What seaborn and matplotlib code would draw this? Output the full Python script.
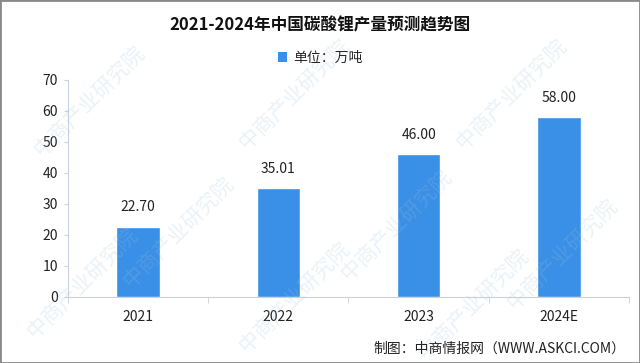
import matplotlib
matplotlib.use("Agg")
import matplotlib.pyplot as plt
from matplotlib.patches import Patch, Rectangle
import seaborn as sns
import pandas as pd

years = ["2021", "2022", "2023", "2024E"]
output = [22.70, 35.01, 46.00, 58.00]
title = "2021-2024年中国碳酸锂产量预测趋势图"
unit_label = "单位：万吨"
source = "制图：中商情报网（WWW.ASKCI.COM）"

sns.set_style("white")
plt.rcParams["font.family"] = ["Noto Sans CJK SC", "DejaVu Sans"]

df = pd.DataFrame({"year": years, "value": output})
bar_color = "#3a8fe6"

fig = plt.figure(figsize=(6.4, 3.63), dpi=100)
ax = fig.add_axes([0.106, 0.182, 0.877, 0.598])

# faint watermarks, kept inside the frame
for wx, wy in [(0.14, 0.72), (0.46, 0.74), (0.80, 0.74),
               (0.28, 0.36), (0.62, 0.38), (0.88, 0.30),
               (0.13, 0.22), (0.46, 0.18), (0.74, 0.16)]:
    fig.text(wx, wy, "中商产业研究院", rotation=45, fontsize=15,
             color="#9fc3e0", alpha=0.22, ha="center", va="center", zorder=0)

sns.barplot(data=df, x="year", y="value", color=bar_color, width=0.31,
            saturation=1, ax=ax, zorder=3)
for c in ax.containers:
    ax.bar_label(c, fmt="%.2f", padding=9, fontsize=10, color="#222222")

ax.set_ylim(0, 70)
ax.set_xlim(-0.5, len(years) - 0.5)
ax.set_yticks(range(0, 71, 10))
ax.set_xlabel("")
ax.set_ylabel("")
ax.patch.set_alpha(0)

ax.tick_params(axis="y", left=True, length=3, color="#c8d4e0", labelsize=10,
               labelcolor="#222222", pad=4)
ax.tick_params(axis="x", bottom=False, labelsize=10, labelcolor="#222222", pad=6)
ax.set_xticks([i + 0.5 for i in range(-1, len(years))], minor=True)
ax.tick_params(axis="x", which="minor", bottom=True, length=4, color="#d0d0d0")

for s in ["top", "right"]:
    ax.spines[s].set_visible(False)
ax.spines["left"].set_color("#c8d4e0")
ax.spines["bottom"].set_color("#d0d0d0")

fig.text(0.5, 0.93, title, ha="center", va="center", fontsize=12,
         fontweight="bold", color="#111111")
fig.legend(handles=[Patch(facecolor=bar_color, edgecolor="none")],
           labels=[unit_label], loc="center", bbox_to_anchor=(0.5, 0.84),
           frameon=False, fontsize=10, handlelength=0.7, handleheight=0.7,
           handletextpad=0.4)
fig.text(0.978, 0.04, source, ha="right", va="center", fontsize=10,
         color="#222222")

fig.patches.append(Rectangle((0, 0), 1, 1, transform=fig.transFigure,
                             fill=False, edgecolor="#8a8a8a", linewidth=2))

fig.savefig("out.png", dpi=100)
